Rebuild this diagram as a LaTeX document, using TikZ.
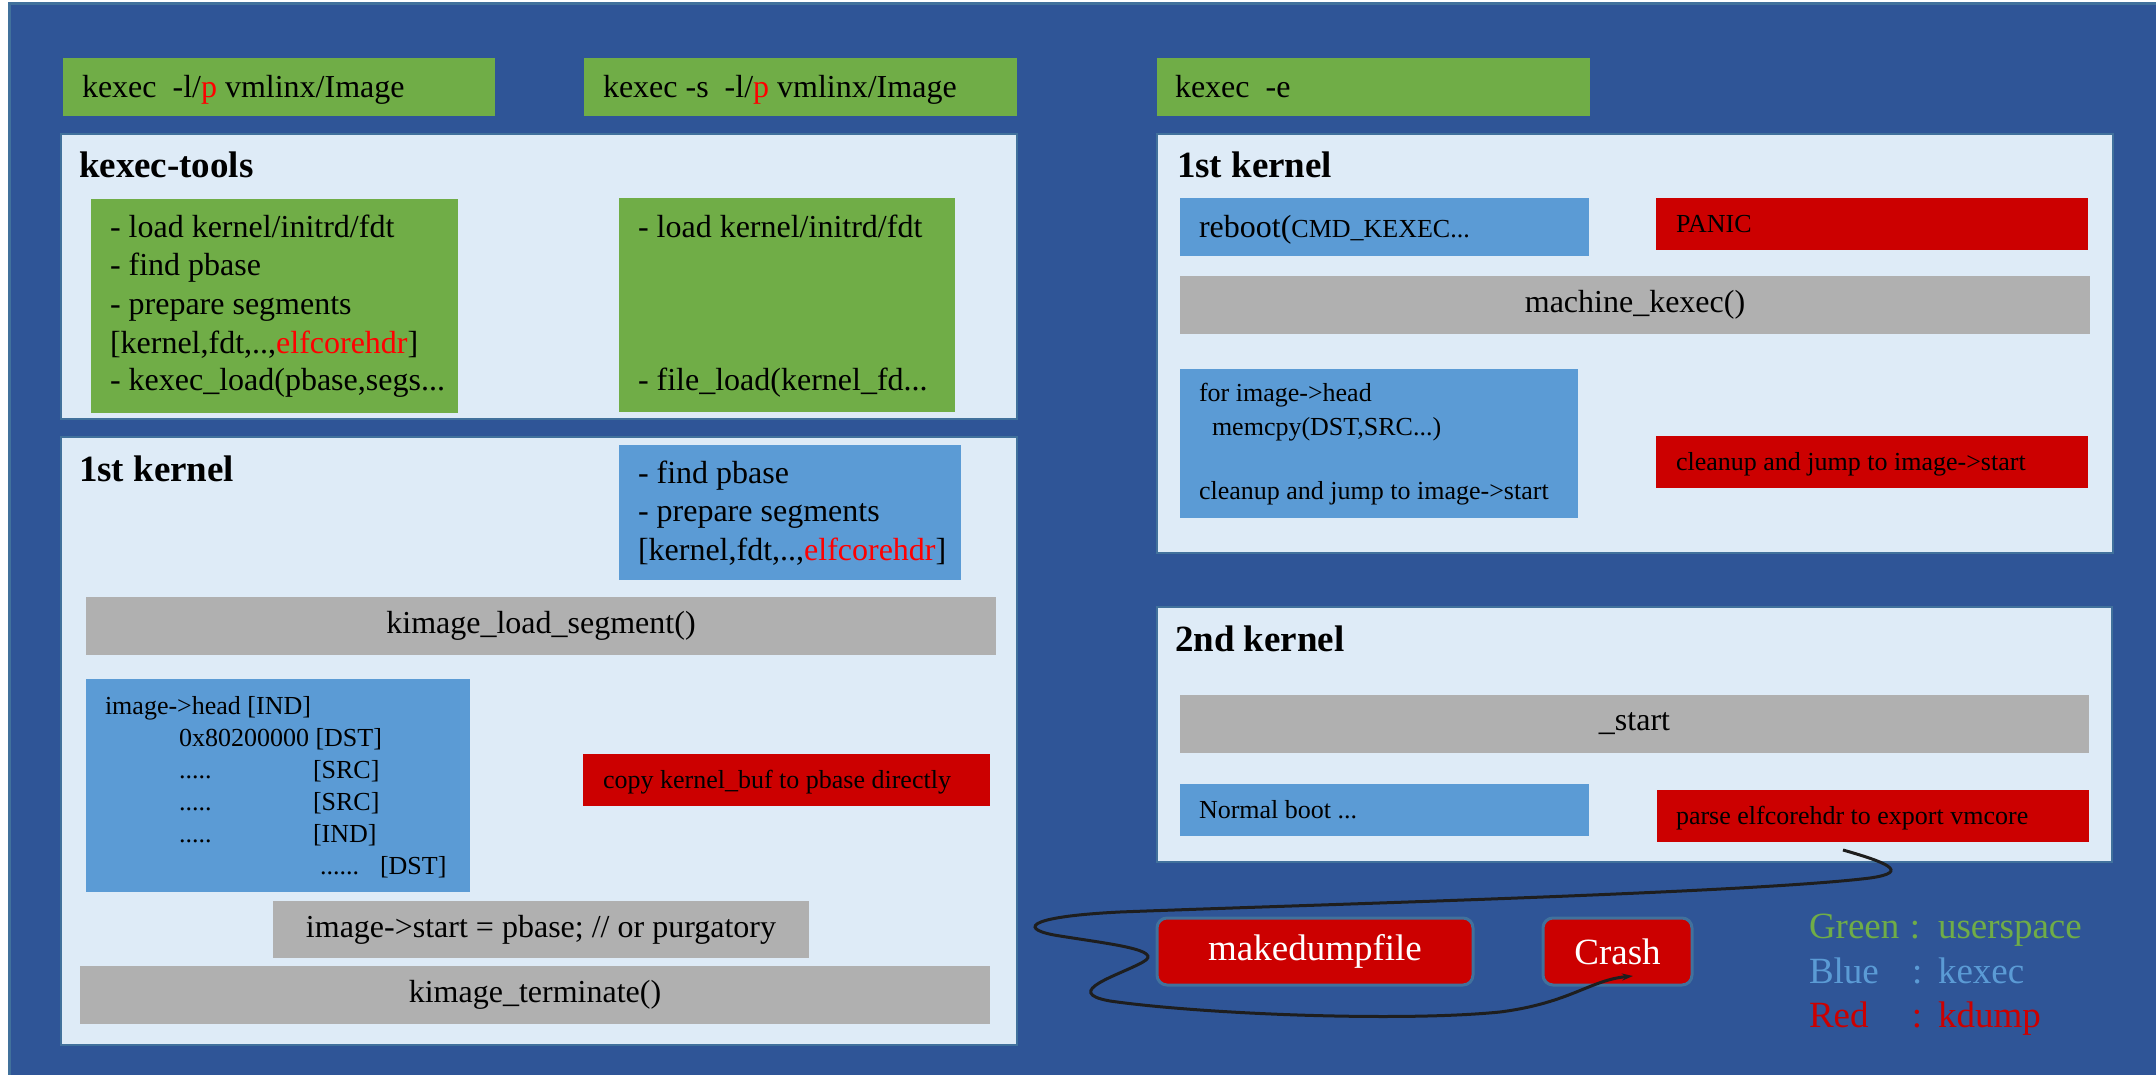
\documentclass[tikz,border=0pt]{standalone}
\usepackage{fontspec}
\setmainfont{Liberation Serif}
\usetikzlibrary{arrows.meta}
\definecolor{bgblue}{RGB}{47,85,151}
\definecolor{bgline}{RGB}{65,113,156}
\definecolor{panelfill}{RGB}{222,235,247}
\definecolor{ugreen}{RGB}{112,173,71}
\definecolor{kblue}{RGB}{91,155,213}
\definecolor{kgray}{RGB}{176,176,176}
\definecolor{kred}{RGB}{204,0,0}
\definecolor{tred}{RGB}{255,0,0}
\newcommand\mybox[6]{\node[#1, anchor=north west, minimum width=#5pt, minimum height=#6pt] (#2) at (#3,#4) {};}
\newcommand\tx[5]{\node[#1, anchor=base west] (#2) at (#3,#4) {#5};}
\begin{document}
\begin{tikzpicture}[x=1pt,y=-1pt,
  every node/.style={inner sep=0pt, outer sep=0pt},
  bgbox/.style={fill=bgblue, draw=bgline, line width=3pt},
  panel/.style={fill=panelfill, draw=bgline, line width=2.5pt},
  gbox/.style={fill=ugreen},
  bbox/.style={fill=kblue},
  rbox/.style={fill=kred},
  graybox/.style={fill=kgray},
  rbtn/.style={fill=kred, draw=bgline, line width=3pt, rounded corners=10pt},
  tbig/.style={font=\fontsize{32}{38}\selectfont},
  tsmall/.style={font=\fontsize{26}{32}\selectfont},
  ttl/.style={font=\fontsize{37}{44}\selectfont\bfseries},
  tbtn/.style={font=\fontsize{37}{44}\selectfont, text=white},
  tleg/.style={font=\fontsize{37}{44}\selectfont},
  curve/.style={draw={rgb,255:red,30;green,30;blue,30}, line width=3pt, -{Stealth[length=11pt,width=7pt]}}
]
\useasboundingbox (0,0) rectangle (2156,1075);
\fill[white] (0,0) rectangle (2156,1075);
\mybox{bgbox}{bg}{9}{4}{2160}{1080}

% top command boxes
\mybox{gbox}{c1}{63}{58}{432}{58}
\mybox{gbox}{c2}{584}{58}{433}{58}
\mybox{gbox}{c3}{1157}{58}{433}{58}
\tx{tbig}{tc1}{82}{98}{kexec\ \ -l/\textcolor{tred}{p} vmlinx/Image}
\tx{tbig}{tc2}{603}{98}{kexec -s\ \ -l/\textcolor{tred}{p} vmlinx/Image}
\tx{tbig}{tc3}{1175}{98}{kexec\ \ -e}

% kexec-tools panel
\mybox{panel}{p1}{61}{134}{956}{285}
\tx{ttl}{tp1}{79}{178}{kexec-tools}
\mybox{gbox}{g4}{91}{199}{367}{214}
\mybox{gbox}{g5}{619}{198}{336}{214}
\tx{tbig}{g4a}{110}{238}{- load kernel/initrd/fdt}
\tx{tbig}{g4b}{110}{276}{- find pbase}
\tx{tbig}{g4c}{110}{315}{- prepare segments}
\tx{tbig}{g4d}{110}{353}{[kernel,fdt,..,\textcolor{tred}{elfcorehdr}]}
\tx{tbig}{g4e}{110}{391}{- kexec\_load(pbase,segs...}
\tx{tbig}{g5a}{638}{238}{- load kernel/initrd/fdt}
\tx{tbig}{g5b}{638}{391}{- file\_load(kernel\_fd...}

% left 1st kernel panel
\mybox{panel}{p2}{61}{437}{956}{608}
\tx{ttl}{tp2}{79}{481}{1st kernel}
\mybox{bbox}{b1}{619}{445}{342}{135}
\tx{tbig}{b1a}{638}{483.5}{- find pbase}
\tx{tbig}{b1b}{638}{521.5}{- prepare segments}
\tx{tbig}{b1c}{638}{560}{[kernel,fdt,..,\textcolor{tred}{elfcorehdr}]}
\mybox{graybox}{gr1}{86}{597}{910}{58}
\node[tbig] (tgr1) at (gr1.center) {kimage\_load\_segment()};
\mybox{bbox}{b2}{86}{679}{384}{213}
\tx{tsmall}{b2a}{105}{714}{image->head [IND]}
\tx{tsmall}{b2b}{179}{746}{0x80200000 [DST]}
\tx{tsmall}{b2c}{179}{778}{.....}
\tx{tsmall}{b2d}{313}{778}{[SRC]}
\tx{tsmall}{b2e}{179}{810}{.....}
\tx{tsmall}{b2f}{313}{810}{[SRC]}
\tx{tsmall}{b2g}{179}{842}{.....}
\tx{tsmall}{b2h}{313}{842}{[IND]}
\tx{tsmall}{b2i}{320}{874}{......}
\tx{tsmall}{b2j}{380}{874}{[DST]}
\mybox{rbox}{r1}{583}{754}{407}{52}
\tx{tsmall}{tr1}{603}{788}{copy kernel\_buf to pbase directly}
\mybox{graybox}{gr2}{273}{901}{536}{57}
\node[tbig] (tgr2) at (gr2.center) {image->start = pbase; // or purgatory};
\mybox{graybox}{gr3}{80}{966}{910}{58}
\node[tbig] (tgr3) at (gr3.center) {kimage\_terminate()};

% right 1st kernel panel
\mybox{panel}{p3}{1157}{134}{956}{419}
\tx{ttl}{tp3}{1177}{178}{1st kernel}
\mybox{bbox}{b3}{1180}{198}{409}{58}
\tx{tbig}{tb3}{1199}{238}{reboot(\fontsize{26}{32}\selectfont CMD\_KEXEC...}
\mybox{rbox}{r2}{1656}{198}{432}{52}
\tx{tsmall}{tr2}{1676}{233}{PANIC}
\mybox{graybox}{gr4}{1180}{276}{910}{58}
\node[tbig] (tgr4) at (gr4.center) {machine\_kexec()};
\mybox{bbox}{b4}{1180}{369}{398}{149}
\tx{tsmall}{b4a}{1199}{402}{for image->head}
\tx{tsmall}{b4b}{1212}{435}{memcpy(DST,SRC...)}
\tx{tsmall}{b4c}{1199}{499}{cleanup and jump to image->start}
\mybox{rbox}{r3}{1656}{436}{432}{52}
\tx{tsmall}{tr3}{1676}{470}{cleanup and jump to image->start}

% 2nd kernel panel
\mybox{panel}{p4}{1157}{607}{955}{255}
\tx{ttl}{tp4}{1175}{651}{2nd kernel}
\mybox{graybox}{gr5}{1180}{695}{909}{58}
\node[tbig] (tgr5) at (gr5.center) {\_start};
\mybox{bbox}{b5}{1180}{784}{409}{52}
\tx{tsmall}{tb5}{1199}{818}{Normal boot ...}
\mybox{rbox}{r4}{1657}{790}{432}{52}
\tx{tsmall}{tr4}{1676}{824}{parse elfcorehdr to export vmcore}

% tools
\mybox{rbtn}{m1}{1157}{918}{316}{67}
\node[tbtn] (tm1) at (m1.center) {makedumpfile};
\mybox{rbtn}{m2}{1543}{918}{149}{67}
\node[tbtn] (tm2) at (m2.center) {Crash};

% connector
\coordinate (cs) at (1843,850);
\coordinate (ce) at (1633,976);
\draw[curve] (cs) .. controls (1885,862) and (1912,872) .. (1870,878)
  .. controls (1750,893) and (1300,905) .. (1120,912)
  .. controls (1020,917) and (1020,930) .. (1060,936)
  .. controls (1110,944) and (1165,950) .. (1143,962)
  .. controls (1120,975) and (1060,992) .. (1110,1001)
  .. controls (1200,1014) and (1400,1022) .. (1500,1012)
  .. controls (1570,1003) and (1590,980) .. (ce);

% legend
\tx{tleg,text=ugreen}{l1}{1809}{938}{\makebox[101pt][l]{Green}\makebox[28pt][l]{:}userspace}
\tx{tleg,text=kblue}{l2}{1809}{983}{\makebox[103pt][l]{Blue}\makebox[26pt][l]{:}kexec}
\tx{tleg,text=kred}{l3}{1809}{1027}{\makebox[103pt][l]{Red}\makebox[26pt][l]{:}kdump}
\end{tikzpicture}
\end{document}
